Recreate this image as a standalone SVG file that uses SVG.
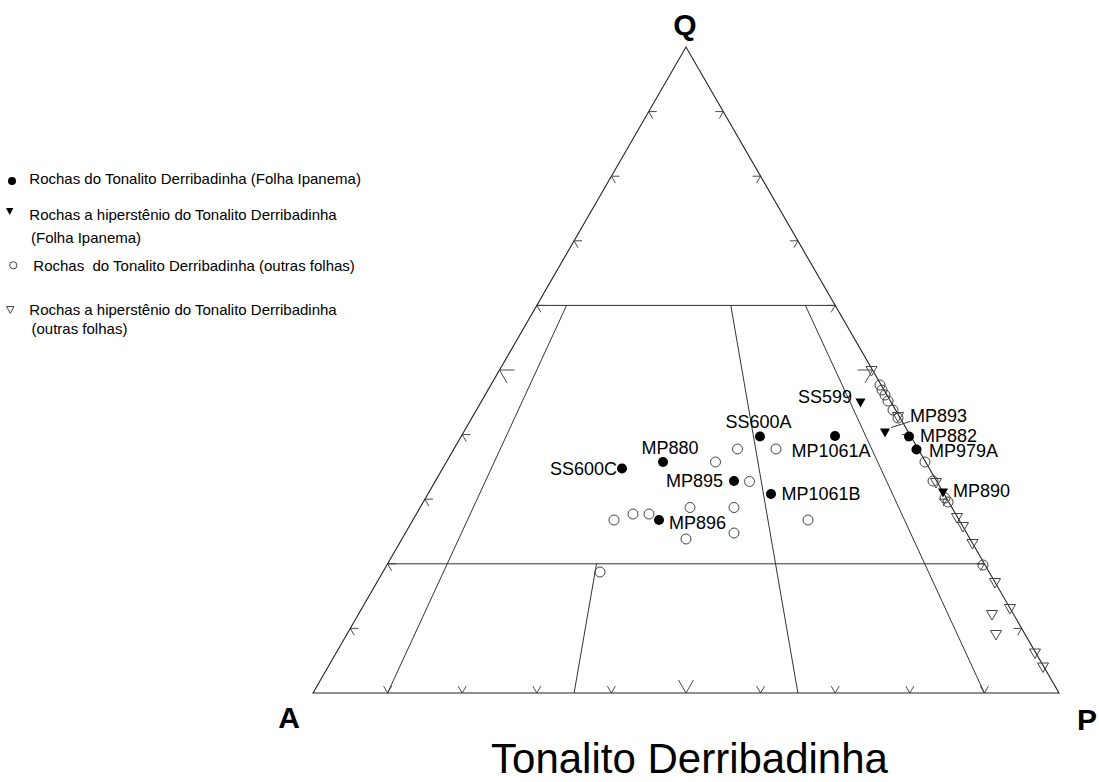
<svg xmlns="http://www.w3.org/2000/svg" width="1099" height="782" viewBox="0 0 1099 782">
<style>
text{font-family:"Liberation Sans",Arial,sans-serif;fill:#000}
.lbl{font-size:18px}
.leg{font-size:15px;white-space:pre}
.ax{font-size:30px;font-weight:bold}
.ttl{font-size:42px}
.edge{fill:none;stroke:#222;stroke-width:1.1}
.grid{fill:none;stroke:#333;stroke-width:1}
.tick{fill:none;stroke:#333;stroke-width:0.9}
.fs{fill:#000;stroke:none}
.os{fill:none;stroke:#444;stroke-width:1}
</style>
<defs>
<circle id="fc" r="5" class="fs"/>
<path id="ft" class="fs" d="M-5,-4.5 L5,-4.5 L0,4.5 Z"/>
<circle id="oc" r="5" class="os"/>
<path id="ot" class="os" d="M-5.5,-4.5 L5.5,-4.5 L0,5 Z"/>
</defs>
<rect width="1099" height="782" fill="#fff"/>

<g id="frame">
<polygon class="edge" points="313,693 686,47 1059,693"/>
</g>

<g id="connectors">
<line class="grid" x1="536.8" y1="305.4" x2="835.2" y2="305.4"/>
<line class="grid" x1="387.6" y1="563.8" x2="984.4" y2="563.8"/>
<line class="grid" x1="566.6" y1="305.4" x2="387.6" y2="693"/>
<line class="grid" x1="596.5" y1="563.8" x2="574.1" y2="693"/>
<line class="grid" x1="730.8" y1="305.4" x2="797.9" y2="693"/>
<line class="grid" x1="805.4" y1="305.4" x2="984.4" y2="693"/>
<line class="grid" x1="891" y1="427.5" x2="910" y2="421.5"/>
</g>

<g id="ticks">
<path class="tick" d="M350.3,628.4H358.3M350.3,628.4L354.3,635.3
M387.6,563.8H395.6M387.6,563.8L391.6,570.7
M424.9,499.2H432.9M424.9,499.2L428.9,506.1
M462.2,434.6H470.2M462.2,434.6L466.2,441.5
M499.5,370H514.5M499.5,370L507,383
M536.8,305.4H544.8M536.8,305.4L540.8,312.3
M574.1,240.8H582.1M574.1,240.8L578.1,247.7
M611.4,176.2H619.4M611.4,176.2L615.4,183.1
M648.7,111.6H656.7M648.7,111.6L652.7,118.5
M1021.7,628.4H1013.7M1021.7,628.4L1017.7,635.3
M984.4,563.8H976.4M984.4,563.8L980.4,570.7
M947.1,499.2H939.1M947.1,499.2L943.1,506.1
M909.8,434.6H901.8M909.8,434.6L905.8,441.5
M872.5,370H857.5M872.5,370L865,383
M835.2,305.4H827.2M835.2,305.4L831.2,312.3
M797.9,240.8H789.9M797.9,240.8L793.9,247.7
M760.6,176.2H752.6M760.6,176.2L756.6,183.1
M723.3,111.6H715.3M723.3,111.6L719.3,118.5
M387.6,693L383.6,686.1M387.6,693L391.6,686.1
M462.2,693L458.2,686.1M462.2,693L466.2,686.1
M536.8,693L532.8,686.1M536.8,693L540.8,686.1
M611.4,693L607.4,686.1M611.4,693L615.4,686.1
M686,693L678.5,680M686,693L693.5,680
M760.6,693L756.6,686.1M760.6,693L764.6,686.1
M835.2,693L831.2,686.1M835.2,693L839.2,686.1
M909.8,693L905.8,686.1M909.8,693L913.8,686.1
M984.4,693L980.4,686.1M984.4,693L988.4,686.1"/>
</g>

<g id="axis-labels">
<text class="ax" x="685" y="35" text-anchor="middle">Q</text>
<text class="ax" x="289" y="728" text-anchor="middle">A</text>
<text class="ax" x="1087" y="730" text-anchor="middle">P</text>
</g>

<g id="open-circles">
<use href="#oc" x="737.5" y="449"/>
<use href="#oc" x="776" y="449"/>
<use href="#oc" x="715.5" y="462"/>
<use href="#oc" x="749.5" y="481.5"/>
<use href="#oc" x="690" y="507.5"/>
<use href="#oc" x="734" y="507.5"/>
<use href="#oc" x="808" y="520"/>
<use href="#oc" x="614" y="520"/>
<use href="#oc" x="633" y="514"/>
<use href="#oc" x="649" y="514"/>
<use href="#oc" x="734" y="533"/>
<use href="#oc" x="686" y="539"/>
<use href="#oc" x="600" y="572"/>
<use href="#oc" x="880" y="385"/>
<use href="#oc" x="882" y="390"/>
<use href="#oc" x="885" y="395"/>
<use href="#oc" x="888" y="401"/>
<use href="#oc" x="893" y="410"/>
<use href="#oc" x="898" y="418"/>
<use href="#oc" x="925" y="462"/>
<use href="#oc" x="933" y="481"/>
<use href="#oc" x="945" y="498"/>
<use href="#oc" x="948" y="502"/>
<use href="#oc" x="983" y="565"/>
</g>

<g id="open-triangles">
<use href="#ot" x="871.5" y="371"/>
<use href="#ot" x="898" y="417"/>
<use href="#ot" x="936" y="483"/>
<use href="#ot" x="957" y="518"/>
<use href="#ot" x="963" y="527"/>
<use href="#ot" x="972.5" y="544"/>
<use href="#ot" x="995" y="583"/>
<use href="#ot" x="1010" y="609"/>
<use href="#ot" x="992" y="615"/>
<use href="#ot" x="996" y="635"/>
<use href="#ot" x="1035" y="653.5"/>
<use href="#ot" x="1043" y="667.5"/>
</g>

<g id="filled-circles">
<use href="#fc" x="760" y="436.5"/>
<use href="#fc" x="835" y="436"/>
<use href="#fc" x="663" y="462"/>
<use href="#fc" x="622" y="468.5"/>
<use href="#fc" x="734" y="481"/>
<use href="#fc" x="771" y="494"/>
<use href="#fc" x="659" y="520"/>
<use href="#fc" x="909" y="436.5"/>
<use href="#fc" x="916.5" y="449.5"/>
</g>

<g id="filled-triangles">
<use href="#ft" x="860.5" y="403"/>
<use href="#ft" x="885" y="433"/>
<use href="#ft" x="943" y="493"/>
</g>

<g id="point-labels">
<text class="lbl" x="725.5" y="427.5">SS600A</text>
<text class="lbl" x="641.5" y="454">MP880</text>
<text class="lbl" x="617" y="475" text-anchor="end">SS600C</text>
<text class="lbl" x="666" y="487">MP895</text>
<text class="lbl" x="781.5" y="500">MP1061B</text>
<text class="lbl" x="669" y="529">MP896</text>
<text class="lbl" x="791.5" y="457">MP1061A</text>
<text class="lbl" x="798" y="402.5">SS599</text>
<text class="lbl" x="910" y="421.5">MP893</text>
<text class="lbl" x="920" y="441.5">MP882</text>
<text class="lbl" x="929" y="456.5">MP979A</text>
<text class="lbl" x="953" y="496.5">MP890</text>
</g>

<g id="legend">
<circle cx="12" cy="181" r="4" class="fs"/>
<text class="leg" x="29.3" y="184">Rochas do Tonalito Derribadinha (Folha Ipanema)</text>
<path class="fs" d="M6,208 L13.4,208 L9.7,215 Z"/>
<text class="leg" x="29.3" y="220">Rochas a hiperstênio do Tonalito Derribadinha</text>
<text class="leg" x="31" y="243">(Folha Ipanema)</text>
<circle cx="13.3" cy="265.3" r="3.6" class="os"/>
<text class="leg" x="33.3" y="271">Rochas  do Tonalito Derribadinha (outras folhas)</text>
<path class="os" d="M6.6,306.5 L14,306.5 L10.3,313.3 Z"/>
<text class="leg" x="29.3" y="315">Rochas a hiperstênio do Tonalito Derribadinha</text>
<text class="leg" x="31.5" y="334">(outras folhas)</text>
</g>

<g id="title">
<text class="ttl" x="689.5" y="773" text-anchor="middle">Tonalito Derribadinha</text>
</g>
</svg>
